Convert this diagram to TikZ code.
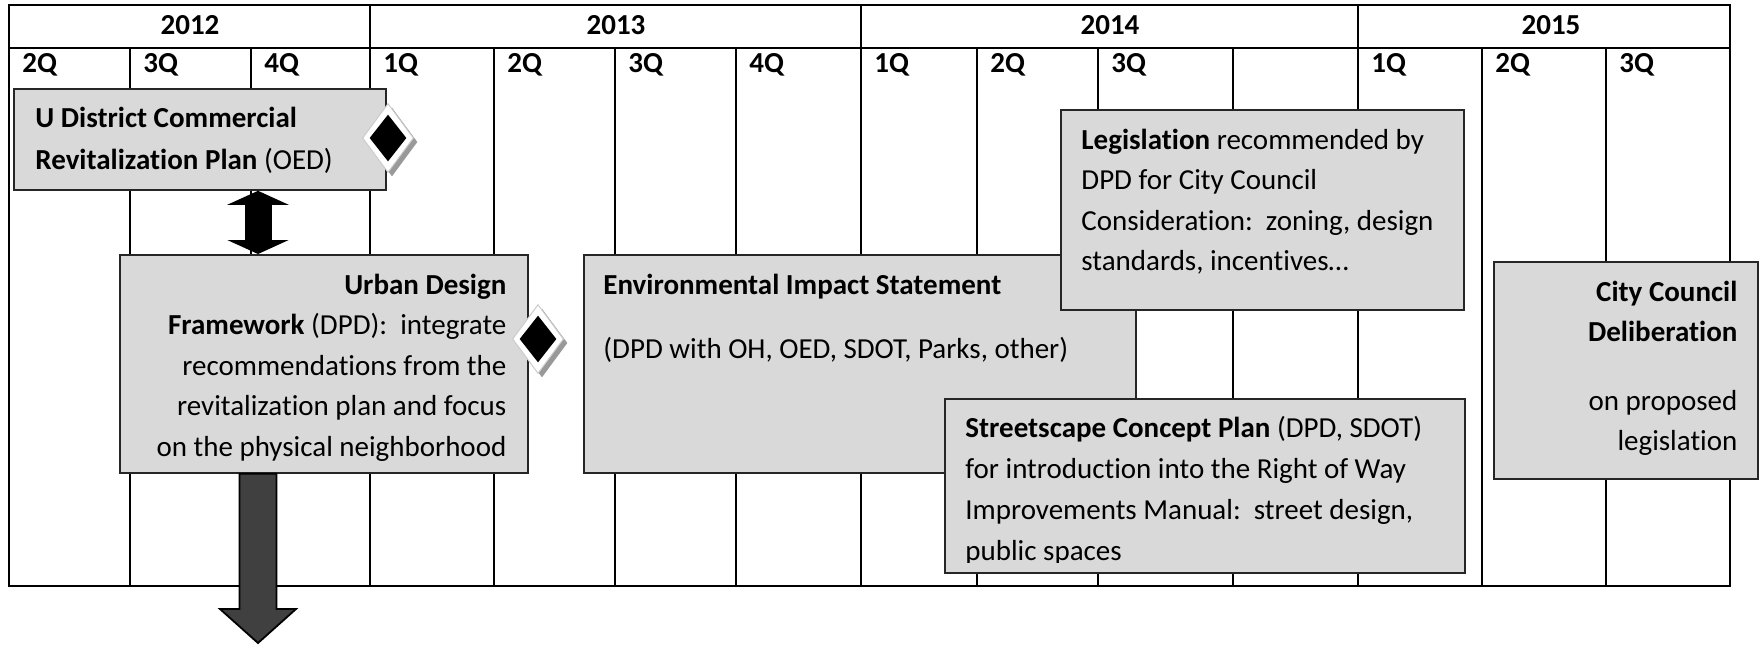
\documentclass[tikz,border=0pt]{standalone}
\usepackage{fontspec}
\setmainfont[Ligatures=NoCommon]{Carlito}
\usepackage{xcolor}
\usepackage{tikz}
\usetikzlibrary{calc, positioning, arrows.meta, shapes.geometric}
\newcommand{\chartfont}{\fontsize{14.5}{20.25}\selectfont}
\tikzset{
    gridLine/.style={draw=black, line width=0.9pt},
    year/.style={font=\chartfont\bfseries, anchor=base, inner sep=0pt},
    quarter/.style={font=\chartfont\bfseries, anchor=base west, inner sep=0pt},
    phase/.style={rectangle, draw=black!85, line width=0.9pt, fill=black!15, inner sep=0pt, anchor=north west},
    phaseText/.style={inner sep=0pt, anchor=base west, font=\chartfont},
    phaseTextR/.style={inner sep=0pt, anchor=base east, font=\chartfont},
    milestone/.style={diamond, draw=black!20, line width=0.5pt, fill=white, inner sep=0pt, minimum width=25.5pt, minimum height=34.5pt},
    mileShadow/.style={milestone, draw=none, fill=black!40},
    mileCore/.style={diamond, fill=black, inner sep=0pt, minimum width=18.5pt, minimum height=23.5pt},
    linkArrow/.style={line width=13.5pt, {Triangle[width=30.5pt,length=7pt]}-{Triangle[width=30.5pt,length=7pt]}},
    outArrow/.style={draw=black, line width=0.9pt, fill=black!75, line join=miter}
}
\begin{document}
\begin{tikzpicture}[x=0.5pt, y=-0.5pt, font=\chartfont]
    \useasboundingbox (0,0) rectangle (1759,645);

    % table frame
    \draw[gridLine] (9,5) rectangle (1730,586);
    \draw[gridLine] (9,48) -- (1730,48);
    \draw[gridLine] (370,5) -- (370,586) (861,5) -- (861,586) (1358,5) -- (1358,586);
    \draw[gridLine] (130,48) -- (130,586) (251,48) -- (251,586) (494,48) -- (494,586)
        (615,48) -- (615,586) (736,48) -- (736,586) (977,48) -- (977,586) (1098,48) -- (1098,586)
        (1233,48) -- (1233,586) (1482,48) -- (1482,586) (1606,48) -- (1606,586);

    % years
    \node[year] (Y2012) at (190,34) {2012};
    \node[year] (Y2013) at (616,34) {2013};
    \node[year] (Y2014) at (1110,34) {2014};
    \node[year] (Y2015) at (1551,34) {2015};

    % quarters
    \node[quarter] (QaA) at (22,72) {2Q};
    \node[quarter] (QaB) at (143,72) {3Q};
    \node[quarter] (QaC) at (264,72) {4Q};
    \node[quarter] (QbA) at (383,72) {1Q};
    \node[quarter] (QbB) at (507,72) {2Q};
    \node[quarter] (QbC) at (628,72) {3Q};
    \node[quarter] (QbD) at (749,72) {4Q};
    \node[quarter] (QcA) at (874,72) {1Q};
    \node[quarter] (QcB) at (990,72) {2Q};
    \node[quarter] (QcC) at (1111,72) {3Q};
    \node[quarter] (QdA) at (1371,72) {1Q};
    \node[quarter] (QdB) at (1495,72) {2Q};
    \node[quarter] (QdC) at (1619,72) {3Q};

    % revitalization plan
    \node[phase, minimum width=186pt, minimum height=50.5pt] (Oed) at (13,88) {};
    \node[phaseText] (OedText) at ($(Oed.north west)+(22,39)$)
        {\begin{tabular}[t]{@{}l@{}}\textbf{U District Commercial}\\[0.75pt] \textbf{Revitalization Plan} (OED)\end{tabular}};

    % urban design framework
    \node[phase, minimum width=204pt, minimum height=109pt] (Udf) at (119,254) {};
    \node[phaseTextR] (UdfText) at ($(Udf.north east)+(-22,40)$)
        {\begin{tabular}[t]{@{}r@{}}\textbf{Urban Design}\\ \textbf{Framework} (DPD):\ \ integrate\\ recommendations from the\\ revitalization plan and focus\\ on the physical neighborhood\end{tabular}};

    % environmental impact statement
    \node[phase, minimum width=276pt, minimum height=109pt] (Eis) at (583,254) {};
    \node[phaseText] (EisText) at ($(Eis.north west)+(20,40)$)
        {\begin{tabular}[t]{@{}l@{}}\textbf{Environmental Impact Statement}\\[12pt] (DPD with OH, OED, SDOT, Parks, other)\end{tabular}};

    % legislation
    \node[phase, minimum width=201.5pt, minimum height=100pt] (Leg) at (1060,109) {};
    \node[phaseText] (LegText) at ($(Leg.north west)+(21,40)$)
        {\begin{tabular}[t]{@{}l@{}}\textbf{Legislation} recommended by\\ DPD for City Council\\ Consideration:\ \ zoning, design\\ standards, incentives…\end{tabular}};

    % streetscape plan
    \node[phase, minimum width=260pt, minimum height=87pt] (Street) at (944,398) {};
    \begin{scope}
        \clip (Street.north west) rectangle ($(Street.south east)+(0,-11)$);
        \node[phaseText] (StreetText) at ($(Street.north west)+(21,39)$)
            {\begin{tabular}[t]{@{}l@{}}\textbf{Streetscape Concept Plan} (DPD, SDOT)\\[0.25pt] for introduction into the Right of Way\\[0.25pt] Improvements Manual:\ \ street design,\\[0.25pt] public spaces\end{tabular}};
    \end{scope}

    % council
    \node[phase, minimum width=132pt, minimum height=108.5pt] (Council) at (1493,261) {};
    \node[phaseTextR] (CouncilText) at ($(Council.north east)+(-21,40)$)
        {\begin{tabular}[t]{@{}r@{}}\textbf{City Council}\\ \textbf{Deliberation}\\[14pt] on proposed\\ legislation\end{tabular}};

    % milestones
    \node[mileShadow] (MileAShadow) at (392,142) {};
    \node[milestone] (MileA) at (388,138) {};
    \node[mileCore] (MileACore) at (MileA) {};
    \node[mileShadow] (MileBShadow) at (542,343) {};
    \node[milestone] (MileB) at (538,339) {};
    \node[mileCore] (MileBCore) at (MileB) {};

    % arrows
    \coordinate (LinkX) at (258,0);
    \coordinate (Handoff) at (258,643);
    \draw[linkArrow] (Oed.south -| LinkX) -- (Udf.north -| LinkX);
    \draw[outArrow] ($(Udf.south -| Handoff)+(-18.5,0)$) -- ($(Handoff)+(-18.5,-34)$)
        -- ($(Handoff)+(-38,-34)$) -- (Handoff) -- ($(Handoff)+(38,-34)$)
        -- ($(Handoff)+(18.5,-34)$) -- ($(Udf.south -| Handoff)+(18.5,0)$) -- cycle;

\end{tikzpicture}
\end{document}
